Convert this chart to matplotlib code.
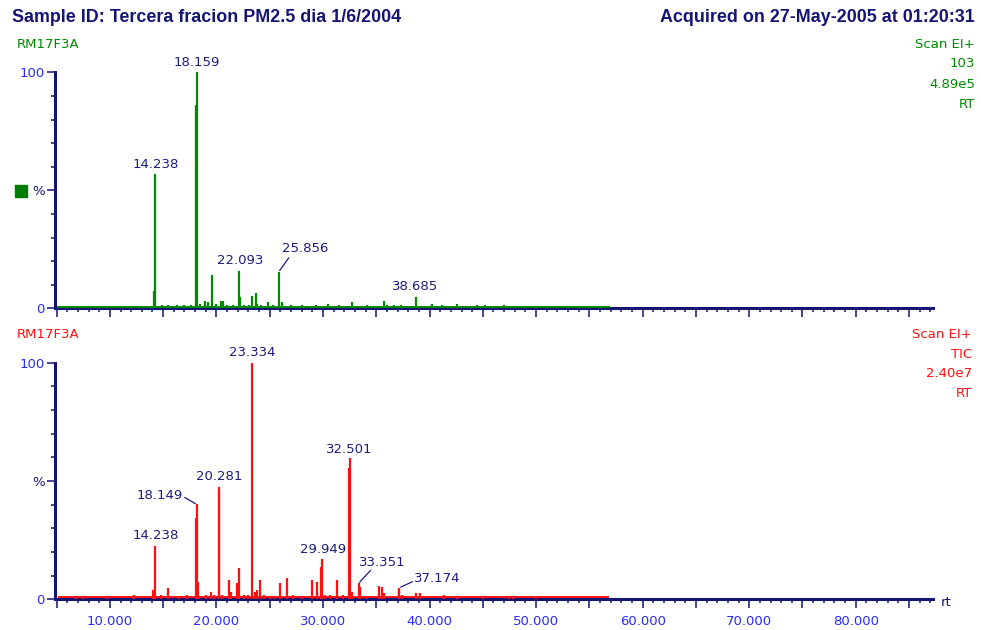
import numpy as np
import matplotlib
matplotlib.use("Agg")
import matplotlib.pyplot as plt
from matplotlib.patches import Rectangle
from matplotlib.ticker import MultipleLocator, FuncFormatter

# --- chromatogram data (retention time in min, relative intensity in %) ---
TITLE_LEFT = "Sample ID: Tercera fracion PM2.5 dia 1/6/2004"
TITLE_RIGHT = "Acquired on 27-May-2005 at 01:20:31"
SAMPLE = "RM17F3A"

# m/z 103 trace
rt_103 = [14.10, 14.238, 14.9, 15.5, 16.3, 17.0, 17.6, 18.070, 18.159, 18.5,
          18.9, 19.2, 19.62, 20.0, 20.4, 20.6, 21.0, 21.6, 22.093, 22.20,
          22.6, 23.1, 23.37, 23.68, 23.85, 24.2, 24.8, 25.3, 25.856, 26.2,
          27.0, 28.0, 29.3, 30.5, 31.5, 32.70, 33.2, 34.1, 35.75, 36.0,
          36.7, 37.3, 38.685, 39.5, 40.2, 41.2, 42.6, 43.3, 44.5, 45.2,
          46.0, 47.0, 47.5, 48.3, 51.1, 51.8, 52.7, 55.0, 55.3]
int_103 = [7.3, 56.9, 1.5, 1.5, 1.2, 1.5, 1.5, 86.0, 100.0, 2.0,
           3.0, 2.5, 14.1, 2.0, 3.0, 3.0, 1.5, 1.5, 15.9, 5.0,
           1.5, 1.5, 5.3, 6.6, 2.0, 1.5, 2.5, 1.5, 15.5, 2.5,
           1.2, 1.5, 1.5, 2.0, 1.5, 2.8, 1.0, 1.2, 3.0, 1.2,
           1.2, 1.2, 5.0, 1.0, 2.0, 1.2, 1.8, 1.0, 1.2, 1.2,
           1.0, 1.2, 1.0, 1.0, 1.0, 1.0, 1.0, 1.0, 1.0]
labels_103 = ["14.238", "18.159", "22.093", "25.856", "38.685"]
base_103 = [5.0, 56.9, 0.6]  # start, end, level

# TIC trace
rt_tic = [6.85, 7.5, 9.7, 12.3, 14.04, 14.238, 14.8, 15.45, 16.5, 17.2,
          18.05, 18.149, 18.3, 19.0, 19.5, 19.8, 20.2, 20.281, 20.5, 21.2,
          21.4, 21.95, 22.15, 22.6, 23.0, 23.334, 23.6, 23.85, 24.1, 24.5,
          25.0, 25.5, 26.0, 26.65, 27.2, 28.0, 29.0, 29.4, 29.85, 29.949,
          30.2, 30.7, 31.3, 31.9, 32.4, 32.501, 32.7, 33.351, 33.45, 34.0,
          35.3, 35.5, 35.75, 37.1, 37.174, 37.4, 38.7, 39.1, 41.4, 42.6,
          45.0, 47.5, 47.8, 50.0]
int_tic = [1.5, 1.2, 1.2, 1.8, 4.0, 22.7, 2.0, 4.9, 1.5, 2.0,
           34.2, 40.1, 7.4, 2.0, 3.0, 2.0, 45.5, 47.6, 2.0, 8.2,
           3.0, 7.0, 13.1, 2.0, 2.0, 100.0, 3.0, 4.0, 8.2, 2.0,
           1.5, 1.5, 6.8, 8.9, 2.0, 1.5, 8.2, 7.4, 13.8, 17.0,
           2.0, 2.0, 8.2, 2.0, 55.6, 59.6, 3.0, 6.8, 5.0, 1.5,
           5.6, 5.0, 2.5, 4.5, 4.9, 2.0, 2.8, 2.8, 1.8, 1.5,
           1.0, 1.3, 1.3, 1.0]
labels_tic = ["14.238", "18.149", "20.281", "23.334", "29.949", "32.501",
              "33.351", "37.174"]
base_tic = [5.1, 56.8, 1.0]

info_103 = ["Scan EI+", "103", "4.89e5", "RT"]
info_tic = ["Scan EI+", "TIC", "2.40e7", "RT"]

XLIM = (4.85, 87.25)

NAVY = "#151575"
BLUE = "#2a2aff"
LABEL_C = "#1c1c80"
GREEN = "#008a00"
RED = "#ff1010"

# label placement in pixels relative to the peak apex:
# (text dx, text dy, leader end dx, leader end dy) -- leader None = no line
OFFSETS_103 = {"14.238": (1, 10, None), "18.159": (0, 10, None),
               "22.093": (1, 10, None), "25.856": (26, 23, (10, 14)),
               "38.685": (0, 10, None)}
OFFSETS_TIC = {"14.238": (1, 10, None), "18.149": (-37, 9, (-12, 7)),
               "20.281": (0, 10, None), "23.334": (0, 10, None),
               "29.949": (1, 10, None), "32.501": (0, 9, None),
               "33.351": (24, 21, (12, 13)), "37.174": (38, 9, (13, 6))}

PX = 0.72  # points per pixel at dpi=100


def draw_panel(ax, rt, inten, base, labels, offsets, color, show_xlabels):
    rt = np.asarray(rt)
    inten = np.asarray(inten)
    ax.plot(base[:2], [base[2], base[2]], color=color, lw=1.4,
            solid_capstyle="butt", zorder=3)
    ax.vlines(rt, 0, inten, color=color, lw=1.6, zorder=3)

    for lab in labels:
        t = float(lab)
        i = int(np.argmin(np.abs(rt - t)))
        dx, dy, leader = offsets[lab]
        xy = (rt[i], inten[i])
        ax.annotate(lab, xy=xy, xytext=(dx * PX, dy * PX),
                    textcoords="offset points", ha="center", va="center",
                    fontsize=9.5, color=LABEL_C)
        if leader is not None:
            ax.annotate("", xy=xy, xytext=(leader[0] * PX, leader[1] * PX),
                        textcoords="offset points",
                        arrowprops=dict(arrowstyle="-", color=LABEL_C, lw=0.9,
                                        shrinkA=0, shrinkB=1))

    ax.set_xlim(*XLIM)
    ax.set_ylim(0, 100)
    ax.set_facecolor("none")
    for side in ("top", "right"):
        ax.spines[side].set_visible(False)
    for side in ("left", "bottom"):
        ax.spines[side].set_color(NAVY)
        ax.spines[side].set_linewidth(2.2)
        ax.spines[side].set_zorder(2)

    ax.xaxis.set_major_locator(MultipleLocator(5))
    ax.xaxis.set_minor_locator(MultipleLocator(1))
    ax.yaxis.set_minor_locator(MultipleLocator(10))
    ax.set_yticks([0, 50, 100])
    ax.set_yticklabels(["0", "%", "100"])
    for tl, c in zip(ax.get_yticklabels(), [BLUE, NAVY, BLUE]):
        tl.set_color(c)

    ax.tick_params(axis="x", which="major", length=6.5, width=1.1,
                   color=NAVY, pad=5, labelsize=9.5, labelcolor=BLUE)
    ax.tick_params(axis="x", which="minor", length=3, width=1.1, color=NAVY)
    ax.tick_params(axis="y", which="major", length=6, width=1.1,
                   color=NAVY, pad=1.5, labelsize=9.5)
    ax.tick_params(axis="y", which="minor", length=3, width=1.1, color=NAVY)

    if show_xlabels:
        ax.xaxis.set_major_formatter(FuncFormatter(
            lambda v, p: f"{v:.3f}" if round(v) % 10 == 0 else ""))
    else:
        ax.xaxis.set_major_formatter(FuncFormatter(lambda v, p: ""))


def main():
    W, H = 981, 630
    fig = plt.figure(figsize=(W / 100, H / 100), dpi=100)
    fig.patch.set_facecolor("white")

    left, right = 55, 933
    ax1 = fig.add_axes([left / W, 1 - 308.3 / H, (right - left) / W, 236 / H])
    ax2 = fig.add_axes([left / W, 1 - 599.3 / H, (right - left) / W, 236.6 / H])

    draw_panel(ax1, rt_103, int_103, base_103, labels_103, OFFSETS_103,
               GREEN, False)
    draw_panel(ax2, rt_tic, int_tic, base_tic, labels_tic, OFFSETS_TIC,
               RED, True)

    title_font = dict(family="Liberation Sans", fontweight="bold",
                      fontsize=12.9, color=NAVY)
    fig.text(12 / W, 1 - 17 / H, TITLE_LEFT, ha="left", va="center",
             **title_font)
    fig.text(975 / W, 1 - 17 / H, TITLE_RIGHT, ha="right", va="center",
             **title_font)

    fig.text(17 / W, 1 - 45 / H, SAMPLE, ha="left", va="center",
             fontsize=9.5, color=GREEN)
    fig.text(17 / W, 1 - 335 / H, SAMPLE, ha="left", va="center",
             fontsize=9.5, color=RED)

    for txt, y in zip(info_103, [44, 63.5, 84, 104]):
        fig.text(975 / W, 1 - y / H, txt, ha="right", va="center",
                 fontsize=9.5, color=GREEN)
    for txt, y in zip(info_tic, [334, 354, 373.5, 393.5]):
        fig.text(972 / W, 1 - y / H, txt, ha="right", va="center",
                 fontsize=9.5, color=RED)

    # legend swatch for the ion trace
    fig.patches.append(Rectangle((15 / W, 1 - 197 / H), 11.5 / W, 11.5 / H,
                                 transform=fig.transFigure, color="#007a00"))

    fig.text(941 / W, 1 - 603 / H, "rt", ha="left", va="center",
             fontsize=9.5, color=NAVY)

    fig.savefig("out.png", dpi=100)


if __name__ == "__main__":
    main()
